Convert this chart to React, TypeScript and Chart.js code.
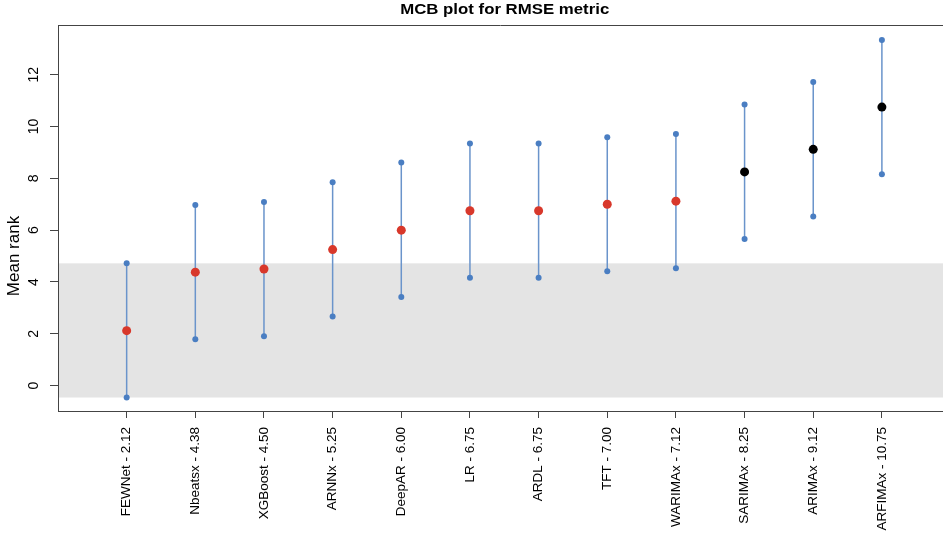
import React, { useEffect, useRef } from "react";
import { Chart, registerables } from "chart.js";

Chart.register(...registerables);

const models = ["FEWNet", "Nbeatsx", "XGBoost", "ARNNx", "DeepAR", "LR", "ARDL", "TFT", "WARIMAx", "SARIMAx", "ARIMAx", "ARFIMAx"];
const meanRanks = [2.12, 4.38, 4.5, 5.25, 6.0, 6.75, 6.75, 7.0, 7.12, 8.25, 9.12, 10.75];
const upperBounds = [4.72, 6.97, 7.09, 7.85, 8.61, 9.35, 9.35, 9.59, 9.71, 10.85, 11.72, 13.34];
const lowerBounds = [-0.46, 1.79, 1.91, 2.67, 3.42, 4.16, 4.16, 4.41, 4.53, 5.66, 6.53, 8.16];
const xTickLabels = [
  "FEWNet - 2.12", "Nbeatsx - 4.38", "XGBoost - 4.50", "ARNNx - 5.25", "DeepAR - 6.00", "LR - 6.75",
  "ARDL - 6.75", "TFT - 7.00", "WARIMAx - 7.12", "SARIMAx - 8.25", "ARIMAx - 9.12", "ARFIMAx - 10.75",
];
const yTickValues = [0, 2, 4, 6, 8, 10, 12];
const titleText = "MCB plot for RMSE metric";
const yAxisTitle = "Mean rank";

const FONT = "'Liberation Sans', Arial, Helvetica, sans-serif";
const AXIS_COLOR = "#444444";

export default function App() {
  const canvasRef = useRef<HTMLCanvasElement | null>(null);

  useEffect(() => {
    const canvas = canvasRef.current;
    if (!canvas) return;

    const whiskerData: any[] = [];
    models.forEach((_, i) => {
      whiskerData.push({ x: i + 1, y: lowerBounds[i] });
      whiskerData.push({ x: i + 1, y: upperBounds[i] });
      whiskerData.push({ x: i + 1.5, y: null });
    });
    const meanData = models.map((_, i) => ({ x: i + 1, y: meanRanks[i] }));
    const meanColors = models.map((_, i) => (lowerBounds[i] > upperBounds[0] ? "#000000" : "#D8382B"));

    const decorPlugin = {
      id: "decor",
      beforeDraw(chart: any) {
        const { ctx, chartArea, scales } = chart;
        const y = scales.y;
        const top = y.getPixelForValue(upperBounds[0]);
        const bottom = y.getPixelForValue(lowerBounds[0]);
        ctx.save();
        ctx.fillStyle = "#E4E4E4";
        ctx.fillRect(chartArea.left, top, chartArea.right - chartArea.left, bottom - top);
        ctx.restore();
      },
      afterDraw(chart: any) {
        const { ctx, chartArea, scales } = chart;
        const y = scales.y;
        ctx.save();
        ctx.strokeStyle = AXIS_COLOR;
        ctx.lineWidth = 1;
        ctx.beginPath();
        ctx.moveTo(chartArea.left, Math.round(chartArea.top) + 0.5);
        ctx.lineTo(chartArea.right, Math.round(chartArea.top) + 0.5);
        ctx.stroke();

        ctx.fillStyle = "#000";
        ctx.font = `14px ${FONT}`;
        ctx.textAlign = "center";
        ctx.textBaseline = "middle";
        yTickValues.forEach((v) => {
          const py = y.getPixelForValue(v);
          ctx.save();
          ctx.translate(34, py);
          ctx.rotate(-Math.PI / 2);
          ctx.fillText(String(v), 0, 0);
          ctx.restore();
        });

        ctx.font = `17px ${FONT}`;
        ctx.save();
        ctx.translate(14, 256);
        ctx.rotate(-Math.PI / 2);
        ctx.fillText(yAxisTitle, 0, 0);
        ctx.restore();

        ctx.font = `bold 14px ${FONT}`;
        ctx.textBaseline = "alphabetic";
        ctx.save();
        ctx.translate(504.7, 13.5);
        ctx.scale(1.2, 1);
        ctx.fillText(titleText, 0, 0);
        ctx.restore();
        ctx.restore();
      },
    };

    const chart = new Chart(canvas, {
      type: "scatter",
      data: {
        datasets: [
          {
            type: "line",
            label: "interval",
            data: whiskerData,
            borderColor: "#6A94CB",
            borderWidth: 1.5,
            pointRadius: 3,
            pointBackgroundColor: "#4A7EC2",
            pointBorderWidth: 0,
            spanGaps: false,
            fill: false,
            order: 2,
          } as any,
          {
            type: "scatter",
            label: "mean",
            data: meanData,
            pointRadius: 4.5,
            pointBackgroundColor: meanColors,
            pointBorderWidth: 0,
            order: 1,
          } as any,
        ],
      },
      options: {
        animation: false,
        responsive: false,
        maintainAspectRatio: false,
        layout: { autoPadding: false, padding: { left: 0, right: 0, top: 25, bottom: 0 } },
        plugins: {
          legend: { display: false },
          title: { display: false },
          tooltip: { enabled: false },
        },
        scales: {
          x: {
            type: "linear",
            min: 0,
            max: 12.89,
            afterBuildTicks: (scale: any) => {
              scale.ticks = models.map((_, i) => ({ value: i + 1 }));
            },
            afterFit: (scale: any) => {
              scale.height = 124;
              scale.paddingLeft = 0;
              scale.paddingRight = 0;
            },
            ticks: {
              autoSkip: false,
              minRotation: 90,
              maxRotation: 90,
              padding: 9,
              color: "#000",
              font: { family: FONT, size: 13.5 },
              callback: (v: any) => {
                const i = Math.round(Number(v)) - 1;
                return xTickLabels[i] ?? "";
              },
            },
            grid: { drawOnChartArea: false, drawTicks: true, tickLength: 7, color: AXIS_COLOR },
            border: { display: true, color: AXIS_COLOR, width: 1 },
          },
          y: {
            type: "linear",
            min: -0.98,
            max: 13.92,
            afterBuildTicks: (scale: any) => {
              scale.ticks = yTickValues.map((v) => ({ value: v }));
            },
            afterFit: (scale: any) => {
              scale.width = 58;
              scale.paddingTop = 0;
              scale.paddingBottom = 0;
            },
            ticks: { display: false },
            grid: { drawOnChartArea: false, drawTicks: true, tickLength: 8, color: AXIS_COLOR },
            border: { display: true, color: AXIS_COLOR, width: 1 },
          },
        },
      },
      plugins: [decorPlugin],
    } as any);

    return () => chart.destroy();
  }, []);

  return (
    <div style={{ position: "absolute", left: 0, top: 0, width: 943, height: 535, background: "#fff" }}>
      <canvas ref={canvasRef} width={943} height={535} style={{ width: 943, height: 535, display: "block" }} />
    </div>
  );
}
